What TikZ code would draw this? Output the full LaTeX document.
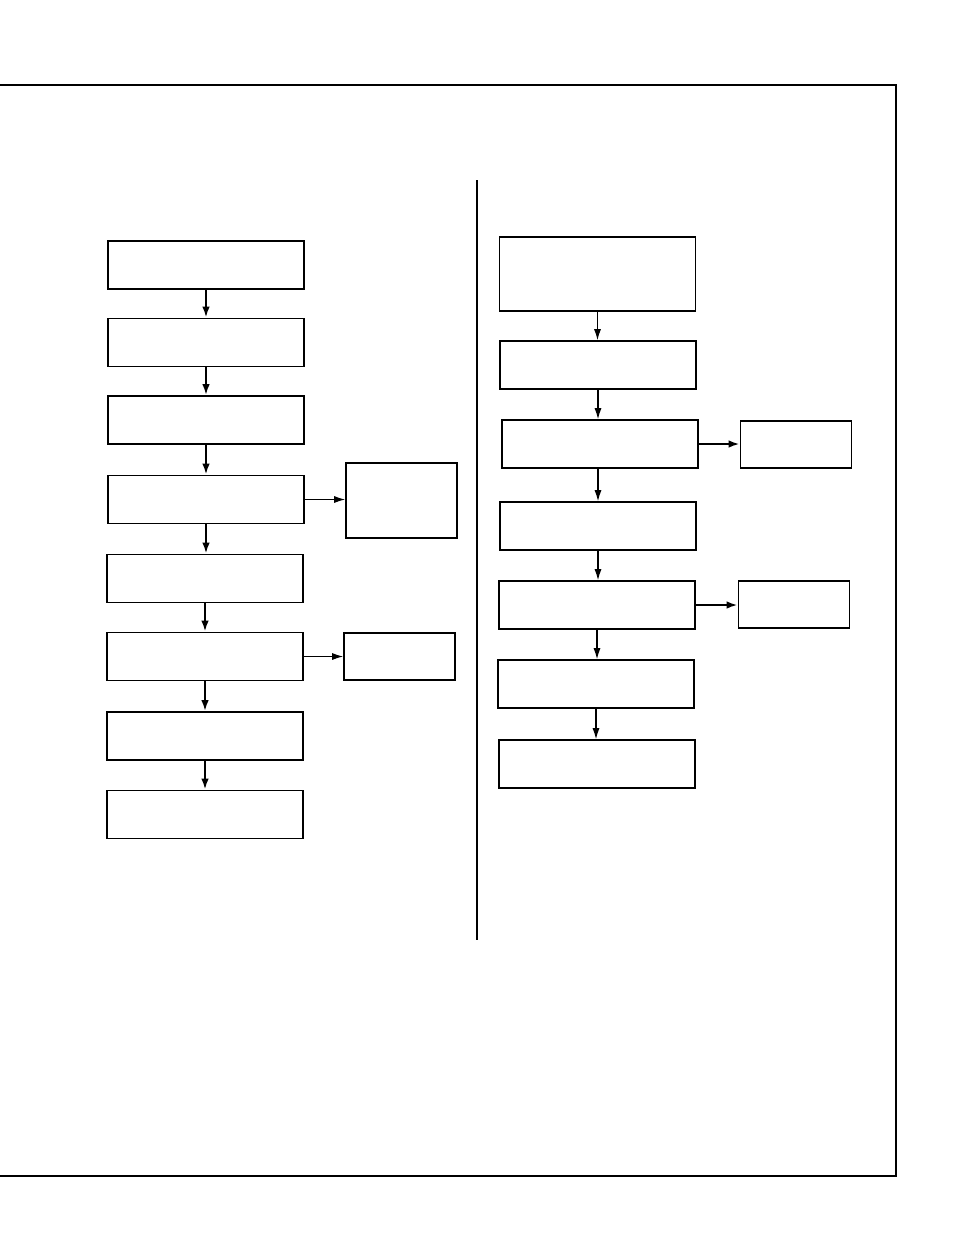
\documentclass[tikz,border=0pt]{standalone}
\usetikzlibrary{arrows.meta}
\begin{document}
\begin{tikzpicture}[x=0.02cm, y=-0.02cm,
    box/.style={draw, line width=0.9pt, inner sep=0pt, minimum width=3.92cm, minimum height=0.96cm},
    tallbox/.style={box, minimum height=1.48cm},
    sidebox/.style={draw, line width=0.9pt, inner sep=0pt, minimum width=2.22cm, minimum height=0.94cm},
    thickarr/.style={-{Latex[length=2.2mm, width=1.5mm]}, line width=1.6pt},
    thinarr/.style={-{Latex[length=2.2mm, width=1.4mm]}, line width=0.7pt}]
  \useasboundingbox (0,0) rectangle (954,1235);

  % frame and divider
  \draw [line width=0.9pt] (0,85) -- (896,85) -- (896,1176) -- (0,1176) ;
  \draw [line width=1.2pt] (477,180) -- (477,940) ;

  % left column
  \node [box] (l1) at (206,265) {};
  \node [box] (l2) at (206,342.5) {};
  \node [box] (l3) at (206,420) {};
  \node [box] (l4) at (206,499.5) {};
  \node [box] (l5) at (205,578.5) {};
  \node [box] (l6) at (205,656.5) {};
  \node [box] (l7) at (205,736) {};
  \node [box] (l8) at (205,814.5) {};
  \node [sidebox, minimum height=1.5cm] (la) at (401.5,500.5) {};
  \node [sidebox] (lb) at (399.5,656.5) {};

  \foreach \a/\b in {l1/l2, l2/l3, l3/l4, l4/l5, l5/l6, l6/l7, l7/l8}
    \draw [thickarr] (\a.south) -- (\a.south |- \b.north) ;
  \draw [thinarr] (l4.east) -- (l4.east -| la.west) ;
  \draw [thinarr] (l6.east) -- (lb.west) ;

  % right column
  \node [tallbox] (r1) at (597.5,274) {};
  \node [box] (r2) at (598,365) {};
  \node [box] (r3) at (600,444) {};
  \node [box] (r4) at (598,526) {};
  \node [box] (r5) at (597,605) {};
  \node [box] (r6) at (596,684) {};
  \node [box] (r7) at (597,764) {};
  \node [sidebox] (ra) at (796,444.5) {};
  \node [sidebox] (rb) at (794,604.5) {};

  \draw [thinarr] (r1.south) -- (r1.south |- r2.north) ;
  \draw [thinarr] (r2.south) -- (r2.south |- r3.north) ;
  \draw [thinarr] (r3.south -| r4.north) -- (r4.north) ;
  \draw [thinarr] (r4.south) -- (r4.south |- r5.north) ;
  \draw [thinarr] (r5.south) -- (r5.south |- r6.north) ;
  \draw [thinarr] (r6.south) -- (r6.south |- r7.north) ;
  \draw [thickarr] (r3.east) -- (r3.east -| ra.west) ;
  \draw [thickarr] (r5.east) -- (r5.east -| rb.west) ;
\end{tikzpicture}
\end{document}
